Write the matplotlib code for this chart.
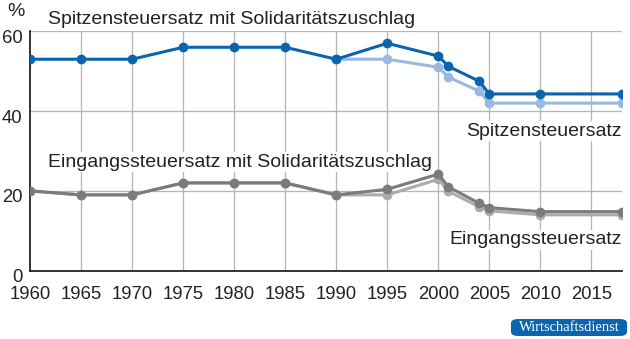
import matplotlib.pyplot as plt
from matplotlib.patches import FancyBboxPatch
from matplotlib.transforms import ScaledTranslation

plt.rcParams['font.family'] = ['Liberation Sans', 'DejaVu Sans']

# Spitzensteuersatz
years_top = [1960, 1965, 1970, 1975, 1980, 1985, 1990, 1995, 2000, 2001, 2004, 2005, 2010, 2018]
top_soli = [53, 53, 53, 56, 56, 56, 53, 57, 53.8, 51.2, 47.5, 44.3, 44.3, 44.3]
years_top_plain = [1990, 1995, 2000, 2001, 2004, 2005, 2010, 2018]
top_plain = [53, 53, 51, 48.5, 45, 42, 42, 42]

# Eingangssteuersatz
years_low = [1960, 1965, 1970, 1975, 1980, 1985, 1990, 1995, 2000, 2001, 2004, 2005, 2010, 2018]
low_soli = [20, 19, 19, 22, 22, 22, 19, 20.4, 24.2, 21.0, 16.9, 15.8, 14.8, 14.8]
low_plain = [20, 19, 19, 22, 22, 22, 19, 19, 22.9, 19.9, 16, 15, 14, 14]

xticks = list(range(1960, 2016, 5))
yticks = [0, 20, 40, 60]

dark_blue = '#0a64ae'
light_blue = '#9bb8e3'
dark_gray = '#7b7b7b'
light_gray = '#acacac'
txt = '#222222'

fig = plt.figure(figsize=(6.3, 3.39), dpi=100)
ax = fig.add_axes([30/630, 1 - 270.7/339, 592/630, (270.7 - 31.3)/339])

for x in xticks[1:]:
    ax.axvline(x, color='#b5b5b5', lw=0.9, zorder=0)
for y in yticks[1:]:
    ax.axhline(y, color='#b5b5b5', lw=0.9, zorder=0)

lw, ms = 2.2, 6
ax.plot(years_low, low_plain, color=light_gray, lw=lw, marker='o', ms=ms, zorder=2)
ax.plot(years_low, low_soli, color=dark_gray, lw=lw, marker='o', ms=ms, zorder=3)
ax.plot(years_top_plain, top_plain, color=light_blue, lw=lw, marker='o', ms=ms, zorder=2)
ax.plot(years_top, top_soli, color=dark_blue, lw=lw, marker='o', ms=ms, zorder=3)

ax.set_xlim(1960, 2018)
ax.set_ylim(0, 60)
ax.set_xticks(xticks)
ax.set_yticks(yticks)
ax.tick_params(length=0, labelsize=13.3, colors=txt)
ax.tick_params(axis='x', pad=11)
ax.tick_params(axis='y', pad=5.5)
for s in ['top', 'right']:
    ax.spines[s].set_visible(False)
ax.spines['left'].set_color(txt)
ax.spines['bottom'].set_color(txt)
ax.spines['left'].set_linewidth(1.3)
ax.spines['bottom'].set_linewidth(1.3)
shift = ScaledTranslation(0, -5/100, fig.dpi_scale_trans)
for lab in ax.get_yticklabels():
    lab.set_transform(lab.get_transform() + shift)

box = dict(facecolor='white', edgecolor='none', pad=1)
fs = 14
fig.text(16/630, 1 - 11/339, '%', fontsize=fs, ha='center', va='center', color=txt)
fig.text(48/630, 1 - 20/339, 'Spitzensteuersatz mit Solidaritätszuschlag', fontsize=fs,
         ha='left', va='center', color=txt)
fig.text(48/630, 1 - 162/339, 'Eingangssteuersatz mit Solidaritätszuschlag', fontsize=fs,
         ha='left', va='center', color=txt, bbox=box)
fig.text(622/630, 1 - 131/339, 'Spitzensteuersatz', fontsize=fs,
         ha='right', va='center', color=txt, bbox=box)
fig.text(622/630, 1 - 240/339, 'Eingangssteuersatz', fontsize=fs,
         ha='right', va='center', color=txt, bbox=box)

logo = FancyBboxPatch((511/630, 1 - 336/339), 116/630, 17/339,
                      boxstyle='round,pad=0,rounding_size=0.012',
                      transform=fig.transFigure, facecolor='#0a64ae', edgecolor='none')
fig.patches.append(logo)
fig.text(569/630, 1 - 327.5/339, 'Wirtschaftsdienst', fontsize=10.5, family='Liberation Serif',
         ha='center', va='center', color='white')

fig.savefig('out.png', dpi=100)
